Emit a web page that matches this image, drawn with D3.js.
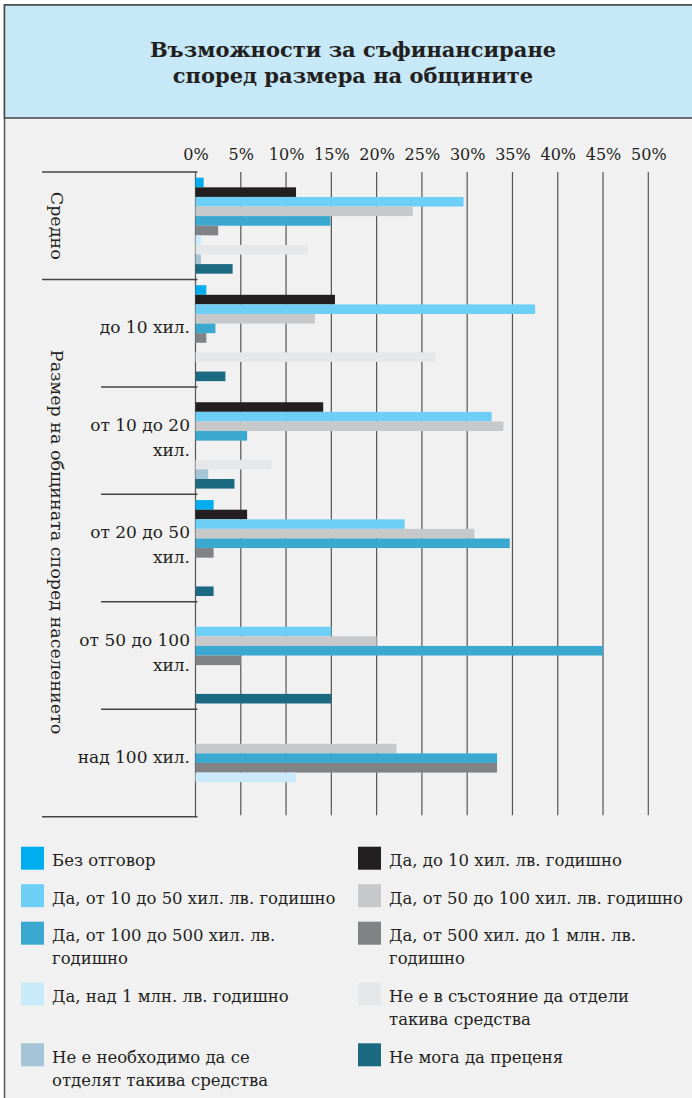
<!DOCTYPE html>
<html lang="bg">
<head>
<meta charset="utf-8">
<script src="https://cdn.jsdelivr.net/npm/d3@7"></script>
<style>
  body { margin: 0; background: #fff; }
  svg { display: block; font-family: "DejaVu Serif", "Liberation Serif", serif; }
</style>
</head>
<body>
<div id="grafik"></div>
<script>
// категории (групи)
const groups = ["Средно", "до 10 хил.", "от 10 до 20\nхил.", "от 20 до 50\nхил.", "от 50 до 100\nхил.", "над 100 хил."];

// серии, стойности в % за всяка група
const series = [
  "Без отговор",
  "Да, до 10 хил. лв. годишно",
  "Да, от 10 до 50 хил. лв. годишно",
  "Да, от 50 до 100 хил. лв. годишно",
  "Да, от 100 до 500 хил. лв.\nгодишно",
  "Да, от 500 хил. до 1 млн. лв.\nгодишно",
  "Да, над 1 млн. лв. годишно",
  "Не е в състояние да отдели\nтакива средства",
  "Не е необходимо да се\nотделят такива средства",
  "Не мога да преценя"
];
const colors = ["#00aeef", "#231f20", "#6dcff6", "#c7c8ca", "#3aa8cf", "#808285", "#c8eaf9", "#e6e7e8", "#a5c4d6", "#1b6a82"];

const bezOtgovor   = [0.9, 1.2, 0, 2.0, 0, 0];
const do10         = [11.1, 15.4, 14.1, 5.7, 0, 0];
const ot10do50     = [29.6, 37.5, 32.7, 23.1, 15, 0];
const ot50do100    = [24.0, 13.2, 34.0, 30.8, 20, 22.2];
const ot100do500   = [14.9, 2.2, 5.7, 34.7, 45, 33.3];
const ot500do1mln  = [2.5, 1.2, 0, 2.0, 5, 33.3];
const nad1mln      = [0.6, 0, 0, 0, 0, 11.1];
const neVSastoyanie = [12.4, 26.5, 8.4, 0, 0, 0];
const neNeobhodimo = [0.6, 0, 1.4, 0, 0, 0];
const neMoga       = [4.1, 3.3, 4.3, 2.0, 15, 0];

const values = [bezOtgovor, do10, ot10do50, ot50do100, ot100do500, ot500do1mln, nad1mln, neVSastoyanie, neNeobhodimo, neMoga];

const tickValues = [0, 5, 10, 15, 20, 25, 30, 35, 40, 45, 50];
const title = ["Възможности за съфинансиране", "според размера на общините"];
const sideLabel = "Размер на общината според населението";

// обекти за d3
const data = [];
groups.forEach((g, gi) => {
  series.forEach((s, si) => {
    data.push({ group: g, serie: s, value: values[si][gi], color: colors[si] });
  });
});

const width = 692;
const height = 1098;
const topY = 172;
const bottomY = 816.7;

const svg = d3.select("#grafik").append("svg")
  .attr("width", width)
  .attr("height", height);

// фон
svg.append("rect").attr("x", 4.5).attr("y", 5).attr("width", width).attr("height", height)
  .attr("fill", "#f1f1f1").attr("stroke", "#555").attr("stroke-width", 1.5);

// заглавие
svg.append("rect").attr("x", 4.5).attr("y", 5).attr("width", width).attr("height", 113)
  .attr("fill", "#c6e8f7").attr("stroke", "#444").attr("stroke-width", 1.5);

svg.append("text")
  .attr("x", 353).attr("y", 57)
  .attr("text-anchor", "middle")
  .attr("font-size", 21).attr("font-weight", "bold").attr("fill", "#231f20")
  .selectAll("tspan").data(title).join("tspan")
  .attr("x", 353).attr("dy", (d, i) => i === 0 ? 0 : 26)
  .text(d => d);

// скали
const x = d3.scaleLinear().domain([0, 50]).range([195.5, 648.3]);
const y0 = d3.scaleBand().domain(groups).range([topY, bottomY]).padding(0);
const y1 = d3.scaleBand().domain(series).range([0, y0.bandwidth()]).paddingInner(0).paddingOuter(0.6);

// мрежа
svg.append("g").selectAll("line").data(tickValues).join("line")
  .attr("x1", d => x(d)).attr("x2", d => x(d))
  .attr("y1", topY).attr("y2", d => d === 0 ? bottomY : bottomY - 1.5)
  .attr("stroke", "#555").attr("stroke-width", 1.2);

// ос с проценти
const xaxis = d3.axisTop(x).tickValues(tickValues).tickFormat(d => d + "%").tickSize(0).tickPadding(12);
const gx = svg.append("g").attr("transform", `translate(0,${topY})`).call(xaxis);
gx.select(".domain").remove();
gx.selectAll("text").attr("font-size", 16).attr("fill", "#231f20")
  .attr("font-family", "DejaVu Serif, serif");

// хоризонтални разделители
const seps = [
  { y: topY, x1: 42 },
  { y: y0(groups[1]), x1: 42 },
  { y: y0(groups[2]), x1: 101 },
  { y: y0(groups[3]), x1: 101 },
  { y: y0(groups[4]), x1: 101 },
  { y: y0(groups[5]), x1: 101 },
  { y: bottomY, x1: 42 }
];
svg.append("g").selectAll("line").data(seps).join("line")
  .attr("x1", d => d.x1).attr("x2", x(0) + 2)
  .attr("y1", d => d.y).attr("y2", d => d.y)
  .attr("stroke", "#444").attr("stroke-width", 1.5);

// стълбове
svg.append("g").selectAll("rect")
  .data(data.filter(d => d.value > 0))
  .join("rect")
  .attr("x", x(0))
  .attr("y", d => y0(d.group) + y1(d.serie))
  .attr("width", d => x(d.value) - x(0))
  .attr("height", y1.bandwidth())
  .attr("fill", d => d.color);

// етикети на групите
const gl = svg.append("g").attr("font-size", 17).attr("fill", "#231f20").attr("text-anchor", "end");
groups.slice(1).forEach(g => {
  const lines = g.split("\n");
  const c = y0(g) + y0.bandwidth() / 2;
  const t = gl.append("text").attr("y", lines.length === 1 ? c : c - 10);
  lines.forEach((l, i) => {
    t.append("tspan").attr("x", 190).attr("dy", i === 0 ? 0 : 25).text(l);
  });
});

// завъртени надписи
svg.append("text")
  .attr("transform", `translate(51,${y0(groups[0]) + y0.bandwidth() / 2}) rotate(90)`)
  .attr("text-anchor", "middle").attr("font-size", 17.5).attr("fill", "#231f20")
  .text(groups[0]);

svg.append("text")
  .attr("transform", `translate(51,${(y0(groups[1]) + bottomY) / 2 - 6}) rotate(90)`)
  .attr("text-anchor", "middle").attr("font-size", 17.5).attr("fill", "#231f20")
  .text(sideLabel);

// легенда
const rowTops = [];
let yy = 846.7;
for (let r = 0; r < series.length / 2; r++) {
  rowTops.push(yy);
  const extra = Math.max(series[r * 2].split("\n").length, series[r * 2 + 1].split("\n").length) - 1;
  yy += 37.5 + extra * 23.3;
}

const leg = svg.append("g").selectAll("g").data(series).join("g")
  .attr("transform", (d, i) => `translate(${i % 2 === 0 ? 21 : 358},${rowTops[Math.floor(i / 2)]})`);

leg.append("rect").attr("width", 23).attr("height", 23).attr("fill", (d, i) => colors[i]);

leg.append("text")
  .attr("font-size", 16.5).attr("fill", "#231f20")
  .selectAll("tspan").data(d => d.split("\n")).join("tspan")
  .attr("x", 31).attr("y", (d, i) => 19.5 + i * 23.3)
  .text(d => d);
</script>
</body>
</html>
